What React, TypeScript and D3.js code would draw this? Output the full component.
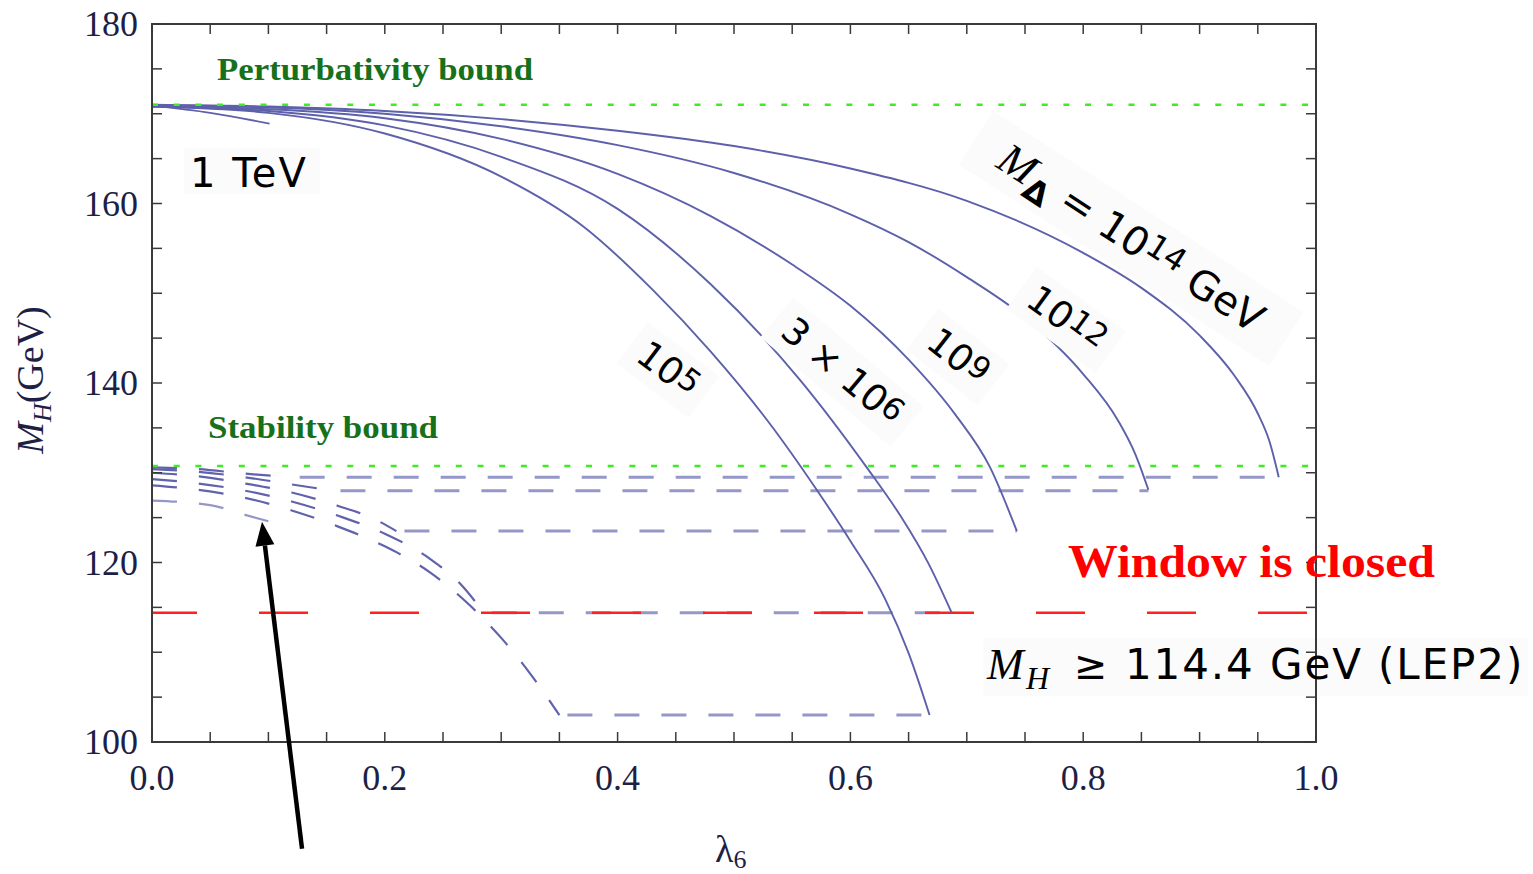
import React from 'react';
import * as d3 from 'd3';

const W = 1533;
const H = 874;

// axes
const xDomain = [0, 1];
const yDomain = [100, 180];
const xTickValues = [0, 0.2, 0.4, 0.6, 0.8, 1.0];
const xTickLabels = ['0.0', '0.2', '0.4', '0.6', '0.8', '1.0'];
const yTickValues = [100, 120, 140, 160, 180];
const yTickLabels = ['100', '120', '140', '160', '180'];
const xMinorStep = 0.05;
const yMinorStep = 5;

// bounds
const perturbativityBound = 171.0;
const stabilityBound = 130.75;
const lepBound = 114.4;

// upper (perturbativity) curves: [lambda6, M_H]
const upper1TeV = [[0, 170.9], [0.05, 170.1], [0.101, 168.9]];
const upper1e5 = [[0, 170.8], [0.1, 170.1], [0.2, 167.8], [0.3, 163.0], [0.37, 157.5], [0.43, 150.4], [0.48, 143.5], [0.53, 135.6], [0.57, 128.3], [0.6, 122.4], [0.63, 115.9], [0.65, 109.9], [0.668, 103.0]];
const upper3e6 = [[0, 170.8], [0.1, 170.3], [0.2, 168.7], [0.3, 165.2], [0.4, 159.4], [0.48, 151.0], [0.557, 140.3], [0.614, 130.6], [0.643, 125.2], [0.667, 119.9], [0.687, 114.4]];
const upper1e9 = [[0, 170.8], [0.1, 170.5], [0.2, 169.5], [0.3, 167.2], [0.4, 163.3], [0.48, 158.6], [0.55, 153.2], [0.6, 148.6], [0.65, 142.6], [0.69, 136.5], [0.72, 130.6], [0.743, 123.5]];
const upper1e12 = [[0, 170.9], [0.1, 170.7], [0.2, 170.0], [0.3, 168.6], [0.4, 166.5], [0.5, 163.4], [0.6, 158.8], [0.65, 155.7], [0.7, 151.8], [0.75, 147.3], [0.8, 141.0], [0.83, 135.8], [0.845, 132.0], [0.856, 128.1]];
const upper1e14 = [[0, 171.0], [0.1, 170.8], [0.2, 170.3], [0.3, 169.4], [0.4, 168.1], [0.5, 166.4], [0.6, 163.9], [0.7, 160.3], [0.8, 154.5], [0.85, 150.6], [0.9, 145.3], [0.93, 140.8], [0.95, 136.6], [0.96, 133.5], [0.968, 129.5]];

// lower (stability) curves
const lower1TeV = [[0, 126.9], [0.05, 126.4], [0.08, 125.3], [0.1, 124.6]];
const lower1e5 = [[0, 128.6], [0.04, 128.1], [0.08, 127.2], [0.12, 125.8], [0.16, 124.0], [0.2, 121.8], [0.24, 118.8], [0.27, 115.6], [0.3, 111.6], [0.325, 107.6], [0.35, 103.0], [0.668, 103.0]];
const lower3e6 = [[0, 129.3], [0.04, 128.8], [0.08, 128.0], [0.12, 126.8], [0.16, 125.2], [0.2, 123.2], [0.24, 120.3], [0.265, 117.6], [0.285, 114.4], [0.687, 114.4]];
const lower1e9 = [[0, 130.0], [0.04, 129.6], [0.08, 128.8], [0.12, 127.8], [0.16, 126.3], [0.19, 124.9], [0.21, 123.5], [0.743, 123.5]];
const lower1e12 = [[0, 130.4], [0.04, 130.1], [0.08, 129.5], [0.12, 128.7], [0.155, 128.0], [0.856, 128.0]];
const lower1e14 = [[0, 130.6], [0.04, 130.4], [0.08, 129.9], [0.12, 129.5], [0.968, 129.5]];

const upperCurves = [upper1TeV, upper1e5, upper3e6, upper1e9, upper1e12, upper1e14];
const lowerCurves = [lower1TeV, lower1e5, lower3e6, lower1e9, lower1e12, lower1e14];

const x = d3.scaleLinear().domain(xDomain).range([152, 1316]);
const y = d3.scaleLinear().domain(yDomain).range([742, 24]);

const line = d3.line<number[]>()
  .x((d) => x(d[0]))
  .y((d) => y(d[1]))
  .curve(d3.curveMonotoneX);

const serif = "'Liberation Serif', 'Times New Roman', serif";
const sans = "'DejaVu Sans', 'Noto Sans', sans-serif";

const SOLID = '#5d60aa';
const DASH_DARK = '#6063ab';
const DASH_LIGHT = '#9597c7';
const BOX = '#fbfbfb';

function RotLabel({ cx, cy, angle, children, w, h }: any) {
  return (
    <g transform={`translate(${cx},${cy}) rotate(${angle})`}>
      <rect x={-w / 2} y={-h / 2} width={w} height={h} fill={BOX} />
      <text x={0} y={12} textAnchor="middle" fontFamily={sans} fontSize={37} fill="#000">
        {children}
      </text>
    </g>
  );
}

export default function App() {
  const [x0, x1] = x.range();
  const [y0, y1] = y.range();
  const xMinor = d3.range(0, 1.0001, xMinorStep);
  const yMinor = d3.range(100, 180.0001, yMinorStep);
  const tickLen = 10;

  // arrow in data coords
  const tipX = x(0.0945), tipY = y(124.55);
  const tailX = x(0.1289), tailY = y(88.1);
  const dx = tipX - tailX, dy = tipY - tailY;
  const len = Math.hypot(dx, dy);
  const ux = dx / len, uy = dy / len;
  const headL = 24, headW = 9.5;
  const bx = tipX - ux * headL, by = tipY - uy * headL;
  const px = -uy, py = ux;

  return (
    <svg width={W} height={H} style={{ position: 'absolute', left: 0, top: 0, background: '#fff' }}>
      <rect x={0} y={0} width={W} height={H} fill="#fff" />

      {/* label boxes (behind curves) */}
      <rect x={184} y={148} width={136} height={46} fill={BOX} />
      <rect x={983} y={638} width={545} height={58} fill={BOX} />

      {/* stability dashed curves */}
      <g fill="none">
        {lowerCurves.map((c, i) => {
          const n = c.length;
          const flat = n >= 2 && c[n - 1][1] === c[n - 2][1];
          const curvePart = flat ? c.slice(0, n - 1) : c;
          return (
            <g key={i}>
              <path d={line(curvePart) || ''} stroke={i === 0 ? DASH_LIGHT : DASH_DARK} strokeWidth={2.2} strokeDasharray="25 22" />
              {flat && (
                <path d={line(c.slice(n - 2)) || ''} stroke={DASH_LIGHT} strokeWidth={3} strokeDasharray="25 22" strokeDashoffset={-8} />
              )}
            </g>
          );
        })}
      </g>

      {/* LEP2 red line */}
      <line x1={x0} x2={x1} y1={y(lepBound)} y2={y(lepBound)} stroke="#ff2020" strokeWidth={2.6} strokeDasharray="49 62" strokeDashoffset={4} />

      {/* solid upper curves */}
      <g fill="none" stroke={SOLID} strokeWidth={1.9}>
        {upperCurves.map((c, i) => (
          <path key={i} d={line(c) || ''} />
        ))}
      </g>

      {/* green dotted bounds */}
      <line x1={x0} x2={x1} y1={y(perturbativityBound)} y2={y(perturbativityBound)} stroke="#3fec22" strokeWidth={2.6} strokeDasharray="6 15.7" />
      <line x1={x0} x2={x1} y1={y(stabilityBound)} y2={y(stabilityBound)} stroke="#3fec22" strokeWidth={2.6} strokeDasharray="6 15.7" />

      {/* frame */}
      <rect x={x0} y={y1} width={x1 - x0} height={y0 - y1} fill="none" stroke="#3a3a3a" strokeWidth={2} />
      <g stroke="#3a3a3a" strokeWidth={1.5}>
        {xMinor.map((v, i) => (
          <g key={'xm' + i}>
            <line x1={x(v)} x2={x(v)} y1={y0} y2={y0 - tickLen} />
            <line x1={x(v)} x2={x(v)} y1={y1} y2={y1 + tickLen} />
          </g>
        ))}
        {yMinor.map((v, i) => (
          <g key={'ym' + i}>
            <line x1={x0} x2={x0 + tickLen} y1={y(v)} y2={y(v)} />
            <line x1={x1} x2={x1 - tickLen} y1={y(v)} y2={y(v)} />
          </g>
        ))}
      </g>

      {/* tick labels */}
      <g fontFamily={serif} fontSize={36} fill="#1d1f45">
        {xTickValues.map((v, i) => (
          <text key={'xt' + i} x={x(v)} y={790} textAnchor="middle">{xTickLabels[i]}</text>
        ))}
        {yTickValues.map((v, i) => (
          <text key={'yt' + i} x={138} y={y(v) + 12} textAnchor="end">{yTickLabels[i]}</text>
        ))}
      </g>

      {/* axis titles */}
      <text transform="translate(43,380) rotate(-90)" textAnchor="middle" fontFamily={serif} fontSize={38} fill="#1d1f45">
        <tspan fontStyle="italic">M</tspan>
        <tspan fontStyle="italic" fontSize={26} dy={8}>H</tspan>
        <tspan dy={-8}>(GeV)</tspan>
      </text>
      <text x={715} y={862} fontFamily={serif} fontSize={38} fill="#1d1f45">
        λ<tspan fontSize={26} dy={6}>6</tspan>
      </text>

      {/* bound labels */}
      <text x={217} y={80} fontFamily={serif} fontWeight="bold" fontSize={31} fill="#17701a" textLength={316} lengthAdjust="spacingAndGlyphs">Perturbativity bound</text>
      <text x={208} y={438} fontFamily={serif} fontWeight="bold" fontSize={31} fill="#17701a" textLength={230} lengthAdjust="spacingAndGlyphs">Stability bound</text>

      <text x={190} y={187} fontFamily={sans} fontSize={40} fill="#000" letterSpacing={2}>1 TeV</text>

      {/* curve labels */}
      <RotLabel cx={668} cy={370} angle={37} w={90} h={52}>10<tspan fontSize={31} dy={-6}>5</tspan></RotLabel>
      <RotLabel cx={842} cy={372} angle={40} w={170} h={52}>3 × 10<tspan fontSize={31} dy={-6}>6</tspan></RotLabel>
      <RotLabel cx={958} cy={357} angle={38} w={90} h={52}>10<tspan fontSize={31} dy={-6}>9</tspan></RotLabel>
      <RotLabel cx={1066} cy={320} angle={36} w={110} h={52}>10<tspan fontSize={31} dy={-8}>12</tspan></RotLabel>
      <g transform={`translate(1130,240) rotate(33)`}>
        <rect x={-185} y={-34} width={370} height={64} fill={BOX} />
        <text x={0} y={12} textAnchor="middle" fontFamily={sans} fontSize={40} fill="#000">
          <tspan fontFamily={serif} fontStyle="italic" fontSize={44}>M</tspan>
          <tspan fontSize={32} fontWeight="bold" dy={10}>Δ</tspan>
          <tspan dy={-10}> = 10</tspan>
          <tspan fontSize={32} dy={-10}>14</tspan>
          <tspan dy={10}> GeV</tspan>
        </text>
      </g>

      {/* window closed */}
      <text x={1068} y={577} fontFamily={serif} fontWeight="bold" fontSize={46} fill="#ff0000" textLength={367} lengthAdjust="spacingAndGlyphs">Window is closed</text>

      <text x={987} y={679} fontFamily={serif} fontStyle="italic" fontSize={44} fill="#000">M</text>
      <text x={1026} y={689} fontFamily={serif} fontStyle="italic" fontSize={32} fill="#000">H</text>
      <text x={1074} y={679} fontFamily={sans} fontSize={40} fill="#000">≥</text>
      <text x={1125} y={679} fontFamily={sans} fontSize={42} fill="#000" letterSpacing={1.9}>114.4 GeV (LEP2)</text>

      {/* arrow */}
      <line x1={tailX} y1={tailY} x2={bx} y2={by} stroke="#000" strokeWidth={4.5} />
      <polygon points={`${tipX},${tipY} ${bx + px * headW},${by + py * headW} ${bx - px * headW},${by - py * headW}`} fill="#000" />
    </svg>
  );
}
